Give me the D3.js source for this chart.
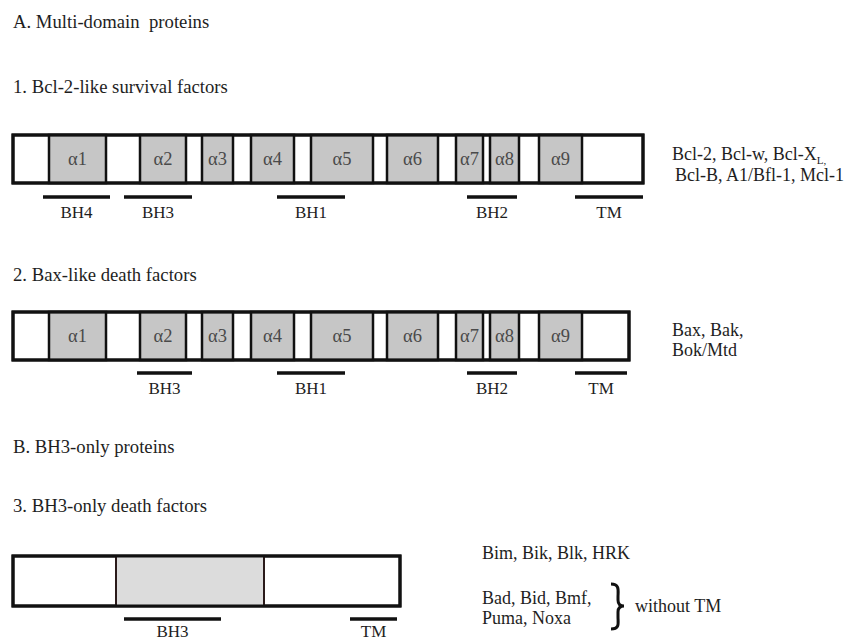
<!DOCTYPE html>
<html>
<head>
<meta charset="utf-8">
<script src="https://cdn.jsdelivr.net/npm/d3@7"></script>
<style>
  body { margin: 0; background: #fff; }
  svg { display: block; }
  text { font-family: "Liberation Serif", "Times New Roman", serif; fill: #1e1e1e; }
</style>
</head>
<body>
<div id="chart"></div>
<script>
// helix names and their extents along the protein (same units for rows 1 and 2)
const helixNames = ["α1", "α2", "α3", "α4", "α5", "α6", "α7", "α8", "α9"];
const helixStart = [36, 127, 189, 238, 298, 374, 443, 477, 526];
const helixEnd = [93, 173, 220, 281, 360, 425, 470, 506, 569];

// row 1: Bcl-2-like survival factors
const row1Length = 630;
const row1Domains = ["BH4", "BH3", "BH1", "BH2", "TM"];
const row1DomStart = [30, 111, 264, 454, 562];
const row1DomEnd = [97, 179, 332, 504, 630];
const row1Members = ["Bcl-2, Bcl-w, Bcl-X", "Bcl-B, A1/Bfl-1, Mcl-1"];

// row 2: Bax-like death factors
const row2Length = 616;
const row2Domains = ["BH3", "BH1", "BH2", "TM"];
const row2DomStart = [124, 264, 454, 562];
const row2DomEnd = [179, 332, 504, 614];
const row2Members = ["Bax, Bak,", "Bok/Mtd"];

// row 3: BH3-only death factors
const row3Length = 387;
const row3Region = [103, 251];
const row3Domains = ["BH3", "TM"];
const row3DomStart = [111, 337];
const row3DomEnd = [208, 384];
const row3MembersA = ["Bim, Bik, Blk, HRK"];
const row3MembersB = ["Bad, Bid, Bmf,", "Puma, Noxa"];
const row3Note = "without TM";

const headings = [
  { text: "A. Multi-domain  proteins", y: 28 },
  { text: "1. Bcl-2-like survival factors", y: 93 },
  { text: "2. Bax-like death factors", y: 281 },
  { text: "B. BH3-only proteins", y: 453 },
  { text: "3. BH3-only death factors", y: 512 }
];

const W = 849, H = 641;
const svg = d3.select("#chart").append("svg")
  .attr("width", W).attr("height", H);

const x = d3.scaleLinear().domain([0, 630]).range([13, 643]);

svg.selectAll("text.heading")
  .data(headings)
  .join("text")
  .attr("class", "heading")
  .attr("x", 13)
  .attr("y", d => d.y)
  .attr("font-size", 18.7)
  .style("white-space", "pre")
  .text(d => d.text);

function drawRow(top, height, length, domains, domStart, domEnd, barY, labelY) {
  const g = svg.append("g");
  // outer box
  g.append("rect")
    .attr("x", x(0)).attr("y", top)
    .attr("width", x(length) - x(0)).attr("height", height)
    .attr("fill", "#fff").attr("stroke", "#111").attr("stroke-width", 3);

  // helices
  const hel = g.selectAll("g.helix")
    .data(helixNames.map((n, i) => ({ n, s: helixStart[i], e: helixEnd[i] })))
    .join("g").attr("class", "helix");
  hel.append("rect")
    .attr("x", d => x(d.s)).attr("y", top)
    .attr("width", d => x(d.e) - x(d.s)).attr("height", height)
    .attr("fill", "#c6c6c6").attr("stroke", "#111").attr("stroke-width", 2.5);
  hel.append("text")
    .attr("x", d => (x(d.s) + x(d.e)) / 2)
    .attr("y", top + height / 2 + 6)
    .attr("text-anchor", "middle")
    .attr("font-size", 18.5)
    .style("fill", "#4a4a4a")
    .text(d => d.n);

  // re-stroke the outer border on top
  g.append("rect")
    .attr("x", x(0)).attr("y", top)
    .attr("width", x(length) - x(0)).attr("height", height)
    .attr("fill", "none").attr("stroke", "#111").attr("stroke-width", 3);

  drawDomains(g, domains, domStart, domEnd, barY, labelY);
}

function drawDomains(g, domains, domStart, domEnd, barY, labelY) {
  const dom = g.selectAll("g.dom")
    .data(domains.map((n, i) => ({ n, s: domStart[i], e: domEnd[i] })))
    .join("g").attr("class", "dom");
  dom.append("line")
    .attr("x1", d => x(d.s)).attr("x2", d => x(d.e))
    .attr("y1", barY).attr("y2", barY)
    .attr("stroke", "#111").attr("stroke-width", 3.5);
  dom.append("text")
    .attr("x", d => (x(d.s) + x(d.e)) / 2)
    .attr("y", labelY)
    .attr("text-anchor", "middle")
    .attr("font-size", 17)
    .text(d => d.n);
}

drawRow(135, 48, row1Length, row1Domains, row1DomStart, row1DomEnd, 197, 218);
drawRow(312, 48, row2Length, row2Domains, row2DomStart, row2DomEnd, 373, 394);

// row 3
const g3 = svg.append("g");
g3.append("rect")
  .attr("x", x(0)).attr("y", 556)
  .attr("width", x(row3Length) - x(0)).attr("height", 50)
  .attr("fill", "#fff").attr("stroke", "#111").attr("stroke-width", 3);
g3.append("rect")
  .attr("x", x(row3Region[0])).attr("y", 556)
  .attr("width", x(row3Region[1]) - x(row3Region[0])).attr("height", 50)
  .attr("fill", "#dcdcdc").attr("stroke", "#2a1a1a").attr("stroke-width", 2);
g3.append("rect")
  .attr("x", x(0)).attr("y", 556)
  .attr("width", x(row3Length) - x(0)).attr("height", 50)
  .attr("fill", "none").attr("stroke", "#111").attr("stroke-width", 3);
drawDomains(g3, row3Domains, row3DomStart, row3DomEnd, 619, 637);

// member lists
function lines(arr, x0, y0, dy) {
  return svg.selectAll(null).data(arr).join("text")
    .attr("x", x0).attr("y", (d, i) => y0 + i * dy)
    .attr("font-size", 18)
    .text(d => d);
}
const r1 = lines(row1Members, 672, 160, 21);
r1.filter((d, i) => i === 1).attr("x", 675);
r1.filter((d, i) => i === 0).append("tspan")
  .attr("font-size", 11).attr("dy", 4).text("L,");
lines(row2Members, 672, 336, 20);
lines(row3MembersA, 482, 559, 0);
lines(row3MembersB, 482, 604, 20);

// brace
svg.append("path")
  .attr("d", "M611,584 C620,584 618,591 618,597 L618,600 C618,604 620,606 624,606 C620,606 618,608 618,612 L618,617 C618,623 620,629 611,629")
  .attr("fill", "none").attr("stroke", "#111").attr("stroke-width", 3);
svg.append("text")
  .attr("x", 635).attr("y", 612)
  .attr("font-size", 18)
  .text(row3Note);
</script>
</body>
</html>
